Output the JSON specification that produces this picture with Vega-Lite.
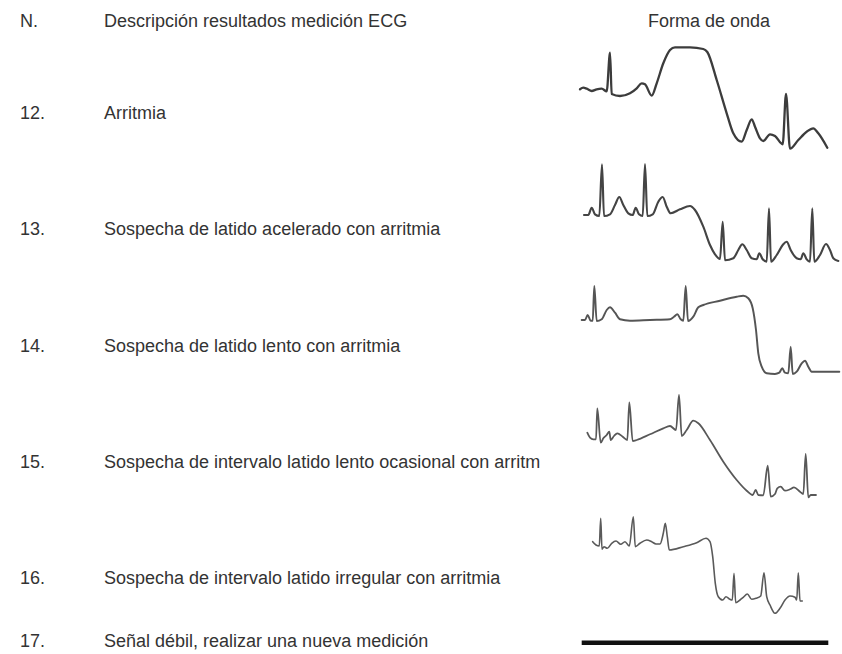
{
  "$schema": "https://vega.github.io/schema/vega-lite/v6.json",
  "width": 842,
  "height": 654,
  "autosize": {"type": "fit", "contains": "padding"},
  "padding": 0,
  "background": "white",
  "config": {"view": {"stroke": null}},
  "datasets": {
    "texts": [
      {"x": 20, "y": 27, "t": "N."},
      {"x": 104, "y": 27, "t": "Descripción resultados medición ECG"},
      {"x": 648, "y": 27, "t": "Forma de onda"},
      {"x": 20, "y": 119, "t": "12."},
      {"x": 104, "y": 119, "t": "Arritmia"},
      {"x": 20, "y": 235, "t": "13."},
      {"x": 104, "y": 235, "t": "Sospecha de latido acelerado con arritmia"},
      {"x": 20, "y": 352, "t": "14."},
      {"x": 104, "y": 352, "t": "Sospecha de latido lento con arritmia"},
      {"x": 20, "y": 468, "t": "15."},
      {"x": 104, "y": 468, "t": "Sospecha de intervalo latido lento ocasional con arritm"},
      {"x": 20, "y": 584, "t": "16."},
      {"x": 104, "y": 584, "t": "Sospecha de intervalo latido irregular con arritmia"},
      {"x": 20, "y": 647, "t": "17."},
      {"x": 104, "y": 647, "t": "Señal débil, realizar una nueva medición"}
    ],
    "waves": [
      {"s": "w1", "x": 580, "y": 89.3}, {"s": "w1", "x": 583.3, "y": 87.7}, {"s": "w1", "x": 586.7, "y": 88.7}, {"s": "w1", "x": 591.7, "y": 91},
      {"s": "w1", "x": 596.7, "y": 89.3}, {"s": "w1", "x": 601.7, "y": 88.7}, {"s": "w1", "x": 606.7, "y": 91.3}, {"s": "w1", "x": 610, "y": 52.7},
      {"s": "w1", "x": 611.7, "y": 94}, {"s": "w1", "x": 620, "y": 96}, {"s": "w1", "x": 630, "y": 93.3}, {"s": "w1", "x": 636.7, "y": 88.3},
      {"s": "w1", "x": 641.7, "y": 83.3}, {"s": "w1", "x": 645, "y": 84.3}, {"s": "w1", "x": 651.7, "y": 95.7}, {"s": "w1", "x": 656.7, "y": 83.3},
      {"s": "w1", "x": 663.3, "y": 63.3}, {"s": "w1", "x": 670, "y": 50}, {"s": "w1", "x": 675, "y": 47.3}, {"s": "w1", "x": 690, "y": 47.3},
      {"s": "w1", "x": 703.3, "y": 49}, {"s": "w1", "x": 707.3, "y": 52}, {"s": "w1", "x": 716.7, "y": 80}, {"s": "w1", "x": 726.7, "y": 113.3},
      {"s": "w1", "x": 733.3, "y": 133.3}, {"s": "w1", "x": 741.7, "y": 141.7}, {"s": "w1", "x": 746.7, "y": 130}, {"s": "w1", "x": 751.7, "y": 119.3},
      {"s": "w1", "x": 755, "y": 126.7}, {"s": "w1", "x": 760, "y": 138.3}, {"s": "w1", "x": 763.3, "y": 141}, {"s": "w1", "x": 770, "y": 134.3},
      {"s": "w1", "x": 775, "y": 136}, {"s": "w1", "x": 782.7, "y": 144.3}, {"s": "w1", "x": 786, "y": 94}, {"s": "w1", "x": 790, "y": 148.7},
      {"s": "w1", "x": 798.3, "y": 140}, {"s": "w1", "x": 806.7, "y": 131.7}, {"s": "w1", "x": 813.3, "y": 128.3}, {"s": "w1", "x": 818.3, "y": 133.3},
      {"s": "w1", "x": 827.3, "y": 147.7},

      {"s": "w2", "x": 584, "y": 215}, {"s": "w2", "x": 588.3, "y": 215}, {"s": "w2", "x": 591.7, "y": 207.7}, {"s": "w2", "x": 595, "y": 214.3},
      {"s": "w2", "x": 599.3, "y": 216}, {"s": "w2", "x": 602, "y": 164.3}, {"s": "w2", "x": 604, "y": 216}, {"s": "w2", "x": 610, "y": 214.3},
      {"s": "w2", "x": 615, "y": 205}, {"s": "w2", "x": 619.3, "y": 197}, {"s": "w2", "x": 623.3, "y": 205}, {"s": "w2", "x": 628.3, "y": 213.3},
      {"s": "w2", "x": 632.7, "y": 215}, {"s": "w2", "x": 635.7, "y": 207.7}, {"s": "w2", "x": 639, "y": 214.3}, {"s": "w2", "x": 642.7, "y": 216},
      {"s": "w2", "x": 645, "y": 164}, {"s": "w2", "x": 647.3, "y": 216}, {"s": "w2", "x": 652.7, "y": 214.3}, {"s": "w2", "x": 658.3, "y": 201.7},
      {"s": "w2", "x": 662.7, "y": 197}, {"s": "w2", "x": 666.7, "y": 206.7}, {"s": "w2", "x": 670.7, "y": 213.3}, {"s": "w2", "x": 680, "y": 209.3},
      {"s": "w2", "x": 690, "y": 206}, {"s": "w2", "x": 695, "y": 210}, {"s": "w2", "x": 703.3, "y": 226.7}, {"s": "w2", "x": 710, "y": 245},
      {"s": "w2", "x": 715, "y": 254.3}, {"s": "w2", "x": 720, "y": 259}, {"s": "w2", "x": 722.7, "y": 221.7}, {"s": "w2", "x": 725, "y": 260.3},
      {"s": "w2", "x": 733.3, "y": 258.3}, {"s": "w2", "x": 738.3, "y": 250}, {"s": "w2", "x": 742.3, "y": 244.3}, {"s": "w2", "x": 746.7, "y": 250},
      {"s": "w2", "x": 751.7, "y": 258.3}, {"s": "w2", "x": 756.7, "y": 259.3}, {"s": "w2", "x": 759.3, "y": 253.3}, {"s": "w2", "x": 762.7, "y": 259.3},
      {"s": "w2", "x": 766.7, "y": 261.7}, {"s": "w2", "x": 769, "y": 208.3}, {"s": "w2", "x": 771, "y": 261.7}, {"s": "w2", "x": 776.7, "y": 255},
      {"s": "w2", "x": 782.7, "y": 245}, {"s": "w2", "x": 786.7, "y": 241.7}, {"s": "w2", "x": 790.7, "y": 250}, {"s": "w2", "x": 796.7, "y": 258.3},
      {"s": "w2", "x": 800.7, "y": 259.3}, {"s": "w2", "x": 803.3, "y": 253.3}, {"s": "w2", "x": 806.7, "y": 259.3}, {"s": "w2", "x": 810, "y": 261.7},
      {"s": "w2", "x": 812.3, "y": 208.3}, {"s": "w2", "x": 814.3, "y": 261.7}, {"s": "w2", "x": 820, "y": 255}, {"s": "w2", "x": 826, "y": 244},
      {"s": "w2", "x": 830, "y": 250}, {"s": "w2", "x": 833.3, "y": 258.3}, {"s": "w2", "x": 838.3, "y": 261},

      {"s": "w3", "x": 581.7, "y": 320}, {"s": "w3", "x": 585, "y": 320}, {"s": "w3", "x": 587.7, "y": 315}, {"s": "w3", "x": 590.7, "y": 320.7},
      {"s": "w3", "x": 592.7, "y": 320.7}, {"s": "w3", "x": 594.3, "y": 286}, {"s": "w3", "x": 596.7, "y": 321}, {"s": "w3", "x": 601.7, "y": 319.3},
      {"s": "w3", "x": 606.7, "y": 310}, {"s": "w3", "x": 610, "y": 307.3}, {"s": "w3", "x": 615, "y": 312.7}, {"s": "w3", "x": 620, "y": 319.3},
      {"s": "w3", "x": 630, "y": 320.7}, {"s": "w3", "x": 650, "y": 320}, {"s": "w3", "x": 670, "y": 319.3}, {"s": "w3", "x": 674, "y": 316.7},
      {"s": "w3", "x": 677.3, "y": 314.3}, {"s": "w3", "x": 680.7, "y": 319.3}, {"s": "w3", "x": 683.3, "y": 320.7}, {"s": "w3", "x": 685.7, "y": 286},
      {"s": "w3", "x": 688, "y": 321}, {"s": "w3", "x": 693.3, "y": 316.7}, {"s": "w3", "x": 698.3, "y": 307.3}, {"s": "w3", "x": 703.3, "y": 305},
      {"s": "w3", "x": 720, "y": 300.7}, {"s": "w3", "x": 736.7, "y": 296.7}, {"s": "w3", "x": 743.3, "y": 295.7}, {"s": "w3", "x": 748.3, "y": 298.3},
      {"s": "w3", "x": 752.7, "y": 308.3}, {"s": "w3", "x": 756, "y": 330}, {"s": "w3", "x": 758.3, "y": 353.3}, {"s": "w3", "x": 761.7, "y": 366.7},
      {"s": "w3", "x": 766.7, "y": 373.3}, {"s": "w3", "x": 775, "y": 374}, {"s": "w3", "x": 779.3, "y": 372.7}, {"s": "w3", "x": 782.3, "y": 368.3},
      {"s": "w3", "x": 785, "y": 372.7}, {"s": "w3", "x": 788.3, "y": 373.3}, {"s": "w3", "x": 790.7, "y": 346.7}, {"s": "w3", "x": 792.7, "y": 374},
      {"s": "w3", "x": 796.7, "y": 371.7}, {"s": "w3", "x": 801.7, "y": 363.3}, {"s": "w3", "x": 805, "y": 360.7}, {"s": "w3", "x": 808.3, "y": 366.7},
      {"s": "w3", "x": 811.7, "y": 371.7}, {"s": "w3", "x": 820, "y": 371.7}, {"s": "w3", "x": 839.3, "y": 371.7},

      {"s": "w4", "x": 587.3, "y": 432.7}, {"s": "w4", "x": 590, "y": 437.7}, {"s": "w4", "x": 593.3, "y": 439.3}, {"s": "w4", "x": 596, "y": 439.3},
      {"s": "w4", "x": 597.3, "y": 408.3}, {"s": "w4", "x": 600.7, "y": 442.7}, {"s": "w4", "x": 603.3, "y": 438.3}, {"s": "w4", "x": 606.7, "y": 435},
      {"s": "w4", "x": 609.3, "y": 431.7}, {"s": "w4", "x": 610.7, "y": 440}, {"s": "w4", "x": 614, "y": 436}, {"s": "w4", "x": 617.3, "y": 433.3},
      {"s": "w4", "x": 622.7, "y": 436.7}, {"s": "w4", "x": 627.3, "y": 440}, {"s": "w4", "x": 629.3, "y": 402.3}, {"s": "w4", "x": 632.7, "y": 441},
      {"s": "w4", "x": 636.7, "y": 440}, {"s": "w4", "x": 650, "y": 434.3}, {"s": "w4", "x": 663.3, "y": 428.3}, {"s": "w4", "x": 670, "y": 426},
      {"s": "w4", "x": 676, "y": 430}, {"s": "w4", "x": 679, "y": 395}, {"s": "w4", "x": 681.7, "y": 436}, {"s": "w4", "x": 686.7, "y": 430},
      {"s": "w4", "x": 693.3, "y": 420.7}, {"s": "w4", "x": 698.3, "y": 423.3}, {"s": "w4", "x": 710, "y": 440}, {"s": "w4", "x": 723.3, "y": 461.7},
      {"s": "w4", "x": 736.7, "y": 480}, {"s": "w4", "x": 746.7, "y": 490.7}, {"s": "w4", "x": 752.7, "y": 495}, {"s": "w4", "x": 755.7, "y": 490},
      {"s": "w4", "x": 758.3, "y": 495}, {"s": "w4", "x": 763.3, "y": 495.3}, {"s": "w4", "x": 767.7, "y": 465.7}, {"s": "w4", "x": 770.7, "y": 496.7},
      {"s": "w4", "x": 775, "y": 494}, {"s": "w4", "x": 777.3, "y": 488.3}, {"s": "w4", "x": 780.7, "y": 486.7}, {"s": "w4", "x": 785, "y": 490.7},
      {"s": "w4", "x": 790, "y": 489.3}, {"s": "w4", "x": 794, "y": 487.3}, {"s": "w4", "x": 800, "y": 491.7}, {"s": "w4", "x": 803.3, "y": 494},
      {"s": "w4", "x": 805.7, "y": 454}, {"s": "w4", "x": 808.3, "y": 497.3}, {"s": "w4", "x": 810.7, "y": 495}, {"s": "w4", "x": 816, "y": 495},

      {"s": "w5", "x": 592.7, "y": 541.7}, {"s": "w5", "x": 596, "y": 545}, {"s": "w5", "x": 599.3, "y": 546}, {"s": "w5", "x": 600.7, "y": 518.3},
      {"s": "w5", "x": 602, "y": 549.3}, {"s": "w5", "x": 604, "y": 546.7}, {"s": "w5", "x": 607.3, "y": 548.3}, {"s": "w5", "x": 611.7, "y": 543.3},
      {"s": "w5", "x": 616, "y": 541}, {"s": "w5", "x": 620.7, "y": 544.3}, {"s": "w5", "x": 625, "y": 541.7}, {"s": "w5", "x": 629.3, "y": 546},
      {"s": "w5", "x": 633.3, "y": 516.7}, {"s": "w5", "x": 635.3, "y": 546.7}, {"s": "w5", "x": 640, "y": 543.3}, {"s": "w5", "x": 646.7, "y": 540},
      {"s": "w5", "x": 651.7, "y": 541.7}, {"s": "w5", "x": 656, "y": 544}, {"s": "w5", "x": 660, "y": 544}, {"s": "w5", "x": 663.3, "y": 533.3},
      {"s": "w5", "x": 665.3, "y": 523.3}, {"s": "w5", "x": 667.3, "y": 536.7}, {"s": "w5", "x": 669.3, "y": 550}, {"s": "w5", "x": 683.3, "y": 546.7},
      {"s": "w5", "x": 696.7, "y": 542.7}, {"s": "w5", "x": 706, "y": 538.3}, {"s": "w5", "x": 710, "y": 541.7}, {"s": "w5", "x": 712.7, "y": 556.7},
      {"s": "w5", "x": 715.3, "y": 583.3}, {"s": "w5", "x": 718.3, "y": 596.7}, {"s": "w5", "x": 722.7, "y": 600}, {"s": "w5", "x": 726, "y": 596.7},
      {"s": "w5", "x": 730, "y": 599.3}, {"s": "w5", "x": 732.3, "y": 600}, {"s": "w5", "x": 734, "y": 573.3}, {"s": "w5", "x": 735.7, "y": 602.7},
      {"s": "w5", "x": 740, "y": 600}, {"s": "w5", "x": 743.3, "y": 597.3}, {"s": "w5", "x": 747.3, "y": 594}, {"s": "w5", "x": 751.7, "y": 599.3},
      {"s": "w5", "x": 756, "y": 598.3}, {"s": "w5", "x": 760.7, "y": 596}, {"s": "w5", "x": 764, "y": 572.7}, {"s": "w5", "x": 766.7, "y": 596.7},
      {"s": "w5", "x": 770, "y": 605}, {"s": "w5", "x": 775, "y": 613.3}, {"s": "w5", "x": 780, "y": 608.3}, {"s": "w5", "x": 785, "y": 600},
      {"s": "w5", "x": 790, "y": 596}, {"s": "w5", "x": 795, "y": 597.3}, {"s": "w5", "x": 796.7, "y": 600}, {"s": "w5", "x": 798.3, "y": 572.7},
      {"s": "w5", "x": 800, "y": 601}, {"s": "w5", "x": 802.3, "y": 601}
    ],
    "flat": [
      {"x": 581.7, "y": 642.7}, {"x": 828.3, "y": 642.7}
    ]
  },
  "encoding": {
    "x": {"field": "x", "type": "quantitative", "scale": {"domain": [0, 842], "nice": false, "zero": false}, "axis": null},
    "y": {"field": "y", "type": "quantitative", "scale": {"domain": [0, 654], "nice": false, "zero": false, "reverse": true}, "axis": null}
  },
  "layer": [
    {
      "data": {"name": "waves"},
      "mark": {"type": "line", "strokeJoin": "round", "strokeCap": "round", "interpolate": "monotone"},
      "encoding": {
        "detail": {"field": "s", "type": "nominal"},
        "color": {"field": "s", "type": "nominal", "legend": null,
          "scale": {"domain": ["w1", "w2", "w3", "w4", "w5"], "range": ["#3c3c3c", "#444444", "#555555", "#585858", "#5a5a5a"]}},
        "strokeWidth": {"field": "s", "type": "nominal", "legend": null,
          "scale": {"domain": ["w1", "w2", "w3", "w4", "w5"], "range": [2.3, 1.6, 1.3, 1.2, 1.1]}}
      }
    },
    {
      "data": {"name": "flat"},
      "mark": {"type": "line", "color": "#111111", "strokeWidth": 4.5, "strokeCap": "butt"},
      "encoding": {}
    },
    {
      "data": {"name": "texts"},
      "mark": {"type": "text", "align": "left", "baseline": "alphabetic", "font": "Liberation Sans", "fontSize": 18, "color": "#333333"},
      "encoding": {
        "text": {"field": "t", "type": "nominal"}
      }
    }
  ]
}
